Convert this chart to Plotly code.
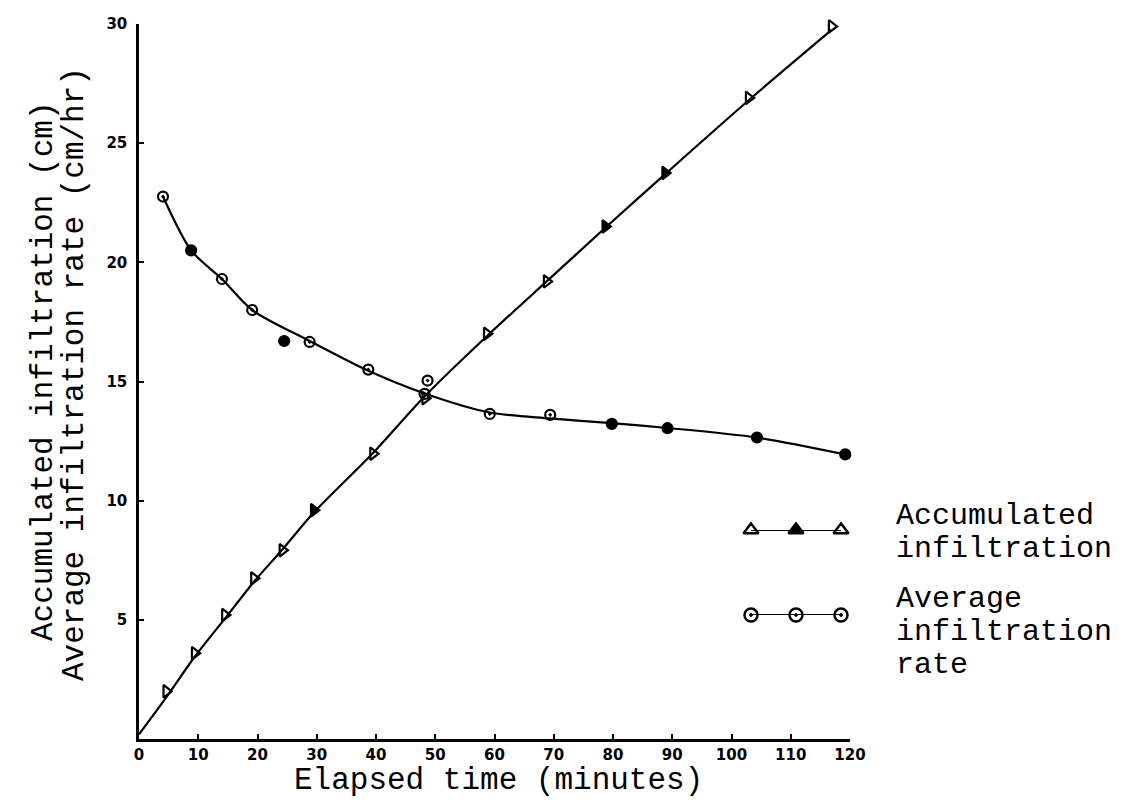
import plotly.graph_objects as go

# ---- data ----
acc_t = [4.6, 9.4, 14.5, 19.4, 24.2, 29.5, 39.5, 48.3, 58.7, 68.8, 78.7, 88.8, 102.9, 116.9]
acc_v = [2.0, 3.6, 5.2, 6.74, 7.92, 9.6, 11.97, 14.3, 17.0, 19.2, 21.5, 23.75, 26.9, 29.9]
acc_filled = [False, False, False, False, False, True, False, False, False, False, True, True, False, False]

acc_curve_t = [0.0, 4.6, 9.4, 14.5, 19.4, 24.2, 29.5, 39.5, 48.3, 58.7, 68.8, 78.7, 88.8, 102.9, 116.9]
acc_curve_v = [0.2, 1.75, 3.45, 5.05, 6.6, 7.95, 9.5, 12.0, 14.4, 16.9, 19.2, 21.45, 23.7, 26.8, 29.75]

rate_t = [4.05, 8.8, 14.0, 19.1, 24.5, 28.8, 38.7, 48.7, 48.2, 59.2, 69.4, 79.8, 89.2, 104.3, 119.2]
rate_v = [22.76, 20.5, 19.3, 18.0, 16.7, 16.66, 15.5, 15.04, 14.48, 13.64, 13.6, 13.22, 13.04, 12.65, 11.94]
rate_filled = [False, True, False, False, True, False, False, False, False, False, False, True, True, True, True]

rate_curve_t = [4.05, 8.8, 14.0, 19.1, 28.8, 38.7, 48.2, 59.2, 69.4, 79.8, 89.2, 104.3, 119.2]
rate_curve_v = [22.76, 20.5, 19.3, 18.0, 16.7, 15.45, 14.5, 13.7, 13.45, 13.25, 13.05, 12.65, 11.94]

x_ticks = [0, 10, 20, 30, 40, 50, 60, 70, 80, 90, 100, 110, 120]
y_ticks = [5, 10, 15, 20, 25, 30]

x_title = "Elapsed time (minutes)"
y_title_1 = "Accumulated infiltration (cm)"
y_title_2 = "Average infiltration rate (cm/hr)"
legend_acc = ["Accumulated", "infiltration"]
legend_rate = ["Average", "infiltration", "rate"]
legend_x = [0, 1, 2]

# ---- layout geometry ----
W, H = 1133, 803
L, R, T, B = 131, 291, 16, 72
PW, PH = W - L - R, H - T - B


def px(xp):
    return (xp - L) / PW


def py(yp):
    return (H - B - yp) / PH


MONO = "Liberation Mono, Courier New, monospace"
TICKF = dict(family="DejaVu Sans", size=15, color="black", weight="bold")

fig = go.Figure()

fig.add_trace(go.Scatter(x=acc_curve_t, y=acc_curve_v, mode="lines", cliponaxis=False,
                         line=dict(color="black", width=2.2, shape="spline", smoothing=0.8),
                         showlegend=False, hoverinfo="skip"))
fig.add_trace(go.Scatter(x=rate_curve_t, y=rate_curve_v, mode="lines", cliponaxis=False,
                         line=dict(color="black", width=2.2, shape="spline", smoothing=0.8),
                         showlegend=False, hoverinfo="skip"))

fig.add_trace(go.Scatter(
    x=acc_t, y=acc_v, mode="markers", showlegend=False, cliponaxis=False,
    marker=dict(symbol=["triangle-right" if f else "triangle-right-open" for f in acc_filled],
                size=11, color="black", line=dict(color="black", width=2.2))))
fig.add_trace(go.Scatter(
    x=rate_t, y=rate_v, mode="markers", showlegend=False, cliponaxis=False,
    marker=dict(symbol=["circle" if f else "circle-open-dot" for f in rate_filled],
                size=10, color="black", line=dict(color="black", width=2.2))))

# legend glyphs on an auxiliary axis
fig.add_trace(go.Scatter(
    x=legend_x, y=[1, 1, 1], mode="lines+markers", xaxis="x2", yaxis="y2", showlegend=False,
    cliponaxis=False, line=dict(color="black", width=2),
    marker=dict(symbol=["triangle-up-open", "triangle-up", "triangle-up-open"], size=13,
                color="black", line=dict(color="black", width=2.5))))
fig.add_trace(go.Scatter(
    x=legend_x, y=[0, 0, 0], mode="lines+markers", xaxis="x2", yaxis="y2", showlegend=False,
    cliponaxis=False, line=dict(color="black", width=2),
    marker=dict(symbol="circle-open-dot", size=13, color="black",
                line=dict(color="black", width=2.5))))

ann = []
ann.append(dict(text=x_title, x=px(490), y=py(772), xref="paper", yref="paper",
                showarrow=False, font=dict(family=MONO, size=31, color="black"),
                xanchor="center", yanchor="middle"))
ann.append(dict(text=y_title_1, x=px(35), y=py(363), xref="paper", yref="paper",
                textangle=-90, showarrow=False, font=dict(family=MONO, size=31, color="black"),
                xanchor="center", yanchor="middle"))
ann.append(dict(text=y_title_2, x=px(66), y=py(366), xref="paper", yref="paper",
                textangle=-90, showarrow=False, font=dict(family=MONO, size=31, color="black"),
                xanchor="center", yanchor="middle"))
for txt, yp in zip(legend_acc, [508, 541]):
    ann.append(dict(text=txt, x=px(886), y=py(yp), xref="paper", yref="paper",
                    showarrow=False, font=dict(family=MONO, size=30, color="black"),
                    xanchor="left", yanchor="middle"))
for txt, yp in zip(legend_rate, [591, 624, 657]):
    ann.append(dict(text=txt, x=px(886), y=py(yp), xref="paper", yref="paper",
                    showarrow=False, font=dict(family=MONO, size=30, color="black"),
                    xanchor="left", yanchor="middle"))

fig.update_layout(
    width=W, height=H,
    margin=dict(l=L, r=R, t=T, b=B, autoexpand=False),
    paper_bgcolor="white", plot_bgcolor="white",
    annotations=ann,
    xaxis=dict(range=[0, 120], tickvals=x_ticks, ticktext=[str(v) for v in x_ticks],
               ticks="inside", ticklen=5, tickwidth=2, tickcolor="black",
               showline=True, linecolor="black", linewidth=2.5, showgrid=False,
               zeroline=False, tickfont=TICKF, fixedrange=True),
    yaxis=dict(range=[0, 30], tickvals=y_ticks, ticktext=[str(v) for v in y_ticks],
               ticks="inside", ticklen=5, tickwidth=2, tickcolor="black",
               showline=True, linecolor="black", linewidth=2.5, showgrid=False,
               zeroline=False, tickfont=TICKF, ticklabelstandoff=6, fixedrange=True),
    xaxis2=dict(domain=[px(743), px(833)], range=[0, 2], visible=False, anchor="y2",
                fixedrange=True),
    yaxis2=dict(domain=[py(607), py(522)], range=[0, 1], visible=False,
                anchor="x2", fixedrange=True),
)

fig.write_html("out.html")
